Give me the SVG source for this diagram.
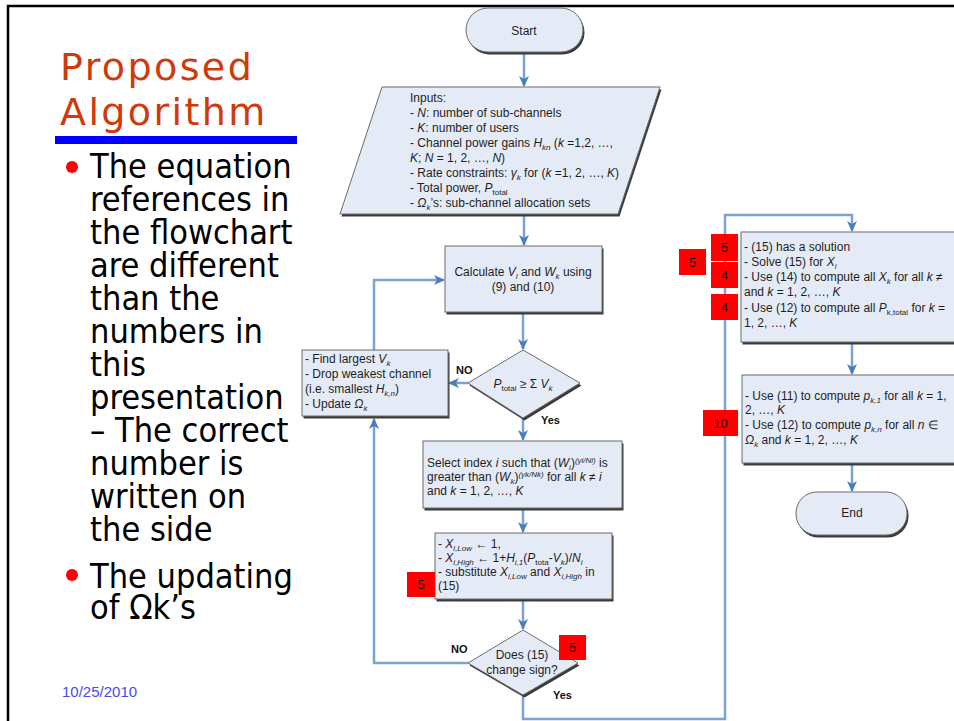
<svg xmlns="http://www.w3.org/2000/svg" width="954" height="721" viewBox="0 0 954 721">
<style>
.ft{font-family:"Liberation Sans",Arial,sans-serif;font-size:12px;fill:#1e1e1e}
.i{font-style:italic}
.sb{font-size:8px}
.node{fill:#e5ebf6;stroke:#6b6b6b;stroke-width:1}
.sh{fill:#3a3a3a}
.con{fill:none;stroke:#7ba1d6;stroke-width:2.5}
.lbl{font-family:"Liberation Sans",Arial,sans-serif;font-size:11px;font-weight:bold;fill:#111;stroke:#fff;stroke-width:0.4;paint-order:stroke}
.red{fill:#ff0000}
.rt{font-family:"Liberation Sans",Arial,sans-serif;font-size:13px;fill:#111;text-anchor:middle}
.body{font-family:"DejaVu Sans Condensed","DejaVu Sans",Verdana,sans-serif;font-size:34px;fill:#000}
.title{font-family:"DejaVu Sans",Verdana,sans-serif;font-size:38px;fill:#cf3a0c;letter-spacing:2.4px}
</style>
<defs>
<marker id="ah" markerUnits="userSpaceOnUse" markerWidth="12" markerHeight="10" refX="10" refY="5" orient="auto">
<path d="M0,0 L11,5 L0,10 L3,5 z" fill="#4a7ebb"/>
</marker>
</defs>
<rect width="954" height="721" fill="#fff"/>
<g id="frame">
<path d="M8,721 V6 H954" fill="none" stroke="#000" stroke-width="2.5"/>
</g>
<g id="slide-text">
<text class="title" x="60" y="80">Proposed</text>
<text class="title" x="60" y="125">Algorithm</text>
<rect x="55" y="136" width="242" height="8" fill="#0000ff"/>
<circle cx="72" cy="167" r="6" fill="#ff0000"/>
<text class="body" x="90" y="178">The equation</text>
<text class="body" x="90" y="211">references in</text>
<text class="body" x="90" y="244">the flowchart</text>
<text class="body" x="90" y="277">are different</text>
<text class="body" x="90" y="310">than the</text>
<text class="body" x="90" y="343">numbers in</text>
<text class="body" x="90" y="376">this</text>
<text class="body" x="90" y="409">presentation</text>
<text class="body" x="90" y="442">– The correct</text>
<text class="body" x="90" y="475">number is</text>
<text class="body" x="90" y="508">written on</text>
<text class="body" x="90" y="541">the side</text>
<circle cx="72" cy="575" r="6" fill="#ff0000"/>
<text class="body" x="90" y="588">The updating</text>
<text class="body" x="90" y="619">of Ωk’s</text>
<text x="62" y="697" font-family="Liberation Sans,Arial,sans-serif" font-size="15" fill="#4a4af0">10/25/2010</text>
</g>
<g id="connectors">
<path class="con" d="M524,52 V86" marker-end="url(#ah)"/>
<path class="con" d="M524,214 V245" marker-end="url(#ah)"/>
<path class="con" d="M523,313 V349" marker-end="url(#ah)"/>
<path class="con" d="M468,383 H449" marker-end="url(#ah)"/>
<path class="con" d="M374,350 V280 H444" marker-end="url(#ah)"/>
<path class="con" d="M523,418 V440" marker-end="url(#ah)"/>
<path class="con" d="M523,509 V532" marker-end="url(#ah)"/>
<path class="con" d="M523,600 V629" marker-end="url(#ah)"/>
<path class="con" d="M468,663 H374 V419" marker-end="url(#ah)"/>
<path class="con" d="M523,695 V719 H725 V215 H852 V231" marker-end="url(#ah)"/>
<path class="con" d="M852,343 V374" marker-end="url(#ah)"/>
<path class="con" d="M852,464 V491" marker-end="url(#ah)"/>
<text class="lbl" x="456" y="374">NO</text>
<text class="lbl" x="541" y="424">Yes</text>
<text class="lbl" x="451" y="653">NO</text>
<text class="lbl" x="553" y="699">Yes</text>
</g>
<g id="start">
<rect class="sh" x="467.5" y="10.5" width="117" height="44" rx="22"/>
<rect class="node" x="466" y="8" width="117" height="44" rx="22"/>
<text class="ft" x="524" y="35" text-anchor="middle">Start</text>
</g>
<g id="inputs">
<polygon class="sh" points="383.5,89.5 661.5,89.5 619.5,216.5 341.5,216.5"/>
<polygon class="node" points="382,87 660,87 618,214 340,214"/>
<text class="ft" x="410" y="102">Inputs:</text>
<text class="ft" x="410" y="117">- <tspan class="i">N</tspan>: number of sub-channels</text>
<text class="ft" x="410" y="132">- <tspan class="i">K</tspan>: number of users</text>
<text class="ft" x="410" y="147">- Channel power gains <tspan class="i">H</tspan><tspan class="i sb" dy="2.5">kn</tspan><tspan dy="-2.5"> (</tspan><tspan class="i">k</tspan> =1,2, …,</text>
<text class="ft" x="410" y="162"><tspan class="i">K</tspan>; <tspan class="i">N</tspan> = 1, 2, …, <tspan class="i">N</tspan>)</text>
<text class="ft" x="410" y="177">- Rate constraints: <tspan class="i">γ</tspan><tspan class="i sb" dy="2.5">k</tspan><tspan dy="-2.5"> for (</tspan><tspan class="i">k</tspan> =1, 2, …, <tspan class="i">K</tspan>)</text>
<text class="ft" x="410" y="192">- Total power, <tspan class="i">P</tspan><tspan class="sb" dy="2.5">total</tspan></text>
<text class="ft" x="410" y="207">- <tspan class="i">Ω</tspan><tspan class="i sb" dy="2.5">k</tspan><tspan dy="-2.5">’s: sub-channel allocation sets</tspan></text>
</g>
<g id="calculate">
<rect class="sh" x="446.5" y="248.5" width="157" height="66"/>
<rect class="node" x="445" y="246" width="157" height="66"/>
<text class="ft" x="523" y="276" text-anchor="middle">Calculate <tspan class="i">V</tspan><tspan class="i sb" dy="2.5">l</tspan><tspan dy="-2.5"> and </tspan><tspan class="i">W</tspan><tspan class="i sb" dy="2.5">k</tspan><tspan dy="-2.5"> using</tspan></text>
<text class="ft" x="523" y="291" text-anchor="middle">(9) and (10)</text>
</g>
<g id="decision-power">
<polygon class="sh" points="524.5,352.5 581.5,385.5 524.5,420.5 469.5,385.5"/>
<polygon class="node" points="523,350 580,383 523,418 468,383"/>
<text class="ft" x="523" y="388" text-anchor="middle"><tspan class="i">P</tspan><tspan class="sb" dy="2.5">total</tspan><tspan dy="-2.5"> ≥ Σ </tspan><tspan class="i">V</tspan><tspan class="i sb" dy="2.5">k</tspan></text>
</g>
<g id="find-largest">
<rect class="sh" x="303.5" y="352.5" width="146" height="66"/>
<rect class="node" x="302" y="350" width="146" height="66"/>
<text class="ft" x="305" y="363">- Find largest <tspan class="i">V</tspan><tspan class="i sb" dy="2.5">k</tspan></text>
<text class="ft" x="305" y="378">- Drop weakest channel</text>
<text class="ft" x="305" y="393">(i.e. smallest <tspan class="i">H</tspan><tspan class="i sb" dy="2.5">k,n</tspan><tspan dy="-2.5">)</tspan></text>
<text class="ft" x="305" y="408">- Update <tspan class="i">Ω</tspan><tspan class="i sb" dy="2.5">k</tspan></text>
</g>
<g id="select-index">
<rect class="sh" x="424.5" y="443.5" width="199" height="67"/>
<rect class="node" x="423" y="441" width="199" height="67"/>
<text class="ft" x="427" y="467">Select index <tspan class="i">i</tspan> such that (<tspan class="i">W</tspan><tspan class="i sb" dy="2.5">i</tspan><tspan dy="-2.5">)</tspan><tspan class="i sb" dy="-4">(γi/Ni)</tspan><tspan dy="4"> is</tspan></text>
<text class="ft" x="427" y="481">greater than (<tspan class="i">W</tspan><tspan class="i sb" dy="2.5">k</tspan><tspan dy="-2.5">)</tspan><tspan class="i sb" dy="-4">(γk/Nk)</tspan><tspan dy="4"> for all </tspan><tspan class="i">k</tspan> ≠ <tspan class="i">i</tspan></text>
<text class="ft" x="427" y="495">and <tspan class="i">k</tspan> = 1, 2, …, <tspan class="i">K</tspan></text>
</g>
<g id="bounds">
<rect class="sh" x="436.5" y="535.5" width="177" height="66"/>
<rect class="node" x="435" y="533" width="177" height="66"/>
<text class="ft" x="438" y="548">- <tspan class="i">X</tspan><tspan class="i sb" dy="2.5">i,Low</tspan><tspan dy="-2.5"> ← 1,</tspan></text>
<text class="ft" x="438" y="562">- <tspan class="i">X</tspan><tspan class="i sb" dy="2.5">i,High</tspan><tspan dy="-2.5"> ← 1+</tspan><tspan class="i">H</tspan><tspan class="i sb" dy="2.5">i,1</tspan><tspan dy="-2.5">(</tspan><tspan class="i">P</tspan><tspan class="sb" dy="2.5">tota</tspan><tspan dy="-2.5">-</tspan><tspan class="i">V</tspan><tspan class="i sb" dy="2.5">k</tspan><tspan dy="-2.5">)/</tspan><tspan class="i">N</tspan><tspan class="i sb" dy="2.5">i</tspan></text>
<text class="ft" x="438" y="576">- substitute <tspan class="i">X</tspan><tspan class="i sb" dy="2.5">i,Low</tspan><tspan dy="-2.5"> and </tspan><tspan class="i">X</tspan><tspan class="i sb" dy="2.5">i,High</tspan><tspan dy="-2.5"> in</tspan></text>
<text class="ft" x="438" y="590">(15)</text>
<rect class="red" x="407" y="572" width="28" height="25"/>
<text class="rt" x="421" y="589">5</text>
</g>
<g id="decision-sign">
<polygon class="sh" points="524.5,632.5 579.5,665.5 524.5,697.5 469.5,665.5"/>
<polygon class="node" points="523,630 578,663 523,695 468,663"/>
<text class="ft" x="522" y="659" text-anchor="middle">Does (15)</text>
<text class="ft" x="522" y="674" text-anchor="middle">change sign?</text>
<rect class="red" x="559" y="635" width="27" height="25"/>
<text class="rt" x="572.5" y="652">5</text>
</g>
<g id="solve">
<rect class="sh" x="742.5" y="234.5" width="230" height="110"/>
<rect class="node" x="741" y="232" width="230" height="110"/>
<text class="ft" x="744" y="251">- (15) has a solution</text>
<text class="ft" x="744" y="266">- Solve (15) for <tspan class="i">X</tspan><tspan class="i sb" dy="2.5">i</tspan></text>
<text class="ft" x="744" y="281">- Use (14) to compute all <tspan class="i">X</tspan><tspan class="i sb" dy="2.5">k</tspan><tspan dy="-2.5"> for all </tspan><tspan class="i">k</tspan> ≠</text>
<text class="ft" x="744" y="296">and <tspan class="i">k</tspan> = 1, 2, …, <tspan class="i">K</tspan></text>
<text class="ft" x="744" y="312">- Use (12) to compute all <tspan class="i">P</tspan><tspan class="sb" dy="2.5">k,total</tspan><tspan dy="-2.5"> for </tspan><tspan class="i">k</tspan> =</text>
<text class="ft" x="744" y="327">1, 2, …, <tspan class="i">K</tspan></text>
<rect class="red" x="711" y="234" width="27" height="27"/>
<text class="rt" x="724.5" y="252">5</text>
<rect class="red" x="679" y="249" width="27" height="26"/>
<text class="rt" x="692.5" y="267">5</text>
<rect class="red" x="711" y="262" width="27" height="26"/>
<text class="rt" x="724.5" y="280">4</text>
<rect class="red" x="711" y="294" width="27" height="26"/>
<text class="rt" x="724.5" y="312">4</text>
</g>
<g id="compute-power">
<rect class="sh" x="743.5" y="377.5" width="230" height="88"/>
<rect class="node" x="742" y="375" width="230" height="88"/>
<text class="ft" x="745" y="400">- Use (11) to compute <tspan class="i">p</tspan><tspan class="i sb" dy="2.5">k,1</tspan><tspan dy="-2.5"> for all </tspan><tspan class="i">k</tspan> = 1,</text>
<text class="ft" x="745" y="414">2, …, <tspan class="i">K</tspan></text>
<text class="ft" x="745" y="429">- Use (12) to compute <tspan class="i">p</tspan><tspan class="i sb" dy="2.5">k,n</tspan><tspan dy="-2.5"> for all </tspan><tspan class="i">n</tspan> ∈</text>
<text class="ft" x="745" y="444"><tspan class="i">Ω</tspan><tspan class="i sb" dy="2.5">k</tspan><tspan dy="-2.5"> and </tspan><tspan class="i">k</tspan> = 1, 2, …, <tspan class="i">K</tspan></text>
<rect class="red" x="703" y="410" width="35" height="26"/>
<text class="rt" x="720.5" y="428">10</text>
</g>
<g id="end">
<rect class="sh" x="797.5" y="494.5" width="111" height="43" rx="21"/>
<rect class="node" x="796" y="492" width="111" height="43" rx="21"/>
<text class="ft" x="852" y="517" text-anchor="middle">End</text>
</g>
</svg>
